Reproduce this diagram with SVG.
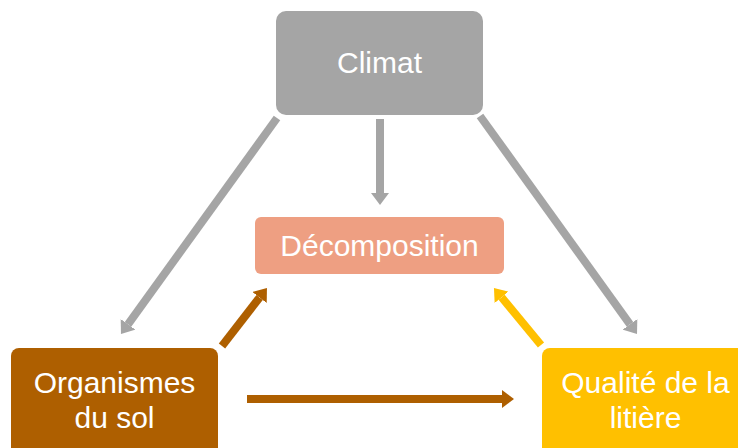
<svg xmlns="http://www.w3.org/2000/svg" width="738" height="448" viewBox="0 0 738 448">
<style>
.lbl{font-family:"Liberation Sans",Arial,sans-serif;font-size:30px;fill:#ffffff;text-anchor:middle}
.c{stroke-width:8;fill:none}
</style>
<defs>
<marker id="hg" markerUnits="userSpaceOnUse" viewBox="0 0 12 18" markerWidth="12" markerHeight="18" refX="0" refY="9" orient="auto"><path d="M0,0 L12,9 L0,18 z" fill="#a5a5a5"/></marker>
<marker id="hb" markerUnits="userSpaceOnUse" viewBox="0 0 12 18" markerWidth="12" markerHeight="18" refX="0" refY="9" orient="auto"><path d="M0,0 L12,9 L0,18 z" fill="#ae5f00"/></marker>
<marker id="hy" markerUnits="userSpaceOnUse" viewBox="0 0 12 18" markerWidth="12" markerHeight="18" refX="0" refY="9" orient="auto"><path d="M0,0 L12,9 L0,18 z" fill="#ffc000"/></marker>
</defs>
<rect width="738" height="448" fill="#ffffff"/>
<g id="connectors">
<line class="c" x1="277" y1="118" x2="128" y2="324.3" stroke="#a5a5a5" marker-end="url(#hg)"/>
<line class="c" x1="380" y1="119" x2="380" y2="193" stroke="#a5a5a5" marker-end="url(#hg)"/>
<line class="c" x1="480" y1="116" x2="630" y2="324.3" stroke="#a5a5a5" marker-end="url(#hg)"/>
<line class="c" x1="222" y1="346" x2="259.6" y2="297.5" stroke="#ae5f00" marker-end="url(#hb)"/>
<line class="c" x1="541" y1="345" x2="501.6" y2="297.3" stroke="#ffc000" marker-end="url(#hy)"/>
<line class="c" x1="247" y1="399" x2="502" y2="399" stroke="#ae5f00" marker-end="url(#hb)"/>
</g>
<g id="climat">
<rect x="276" y="11" width="207" height="104" rx="10" fill="#a5a5a5"/>
<text class="lbl" x="379.5" y="73">Climat</text>
</g>
<g id="decomposition">
<rect x="255" y="217" width="249" height="57" rx="6" fill="#ee9f82"/>
<text class="lbl" x="379.5" y="256">Décomposition</text>
</g>
<g id="organismes">
<rect x="11" y="348" width="207" height="110" rx="8" fill="#ae5f00"/>
<text class="lbl" x="114.5" y="393">Organismes</text>
<text class="lbl" x="114.5" y="428">du sol</text>
</g>
<g id="qualite">
<rect x="542" y="348" width="207" height="110" rx="8" fill="#ffc000"/>
<text class="lbl" x="645.5" y="393">Qualité de la</text>
<text class="lbl" x="645.5" y="428">litière</text>
</g>
</svg>
